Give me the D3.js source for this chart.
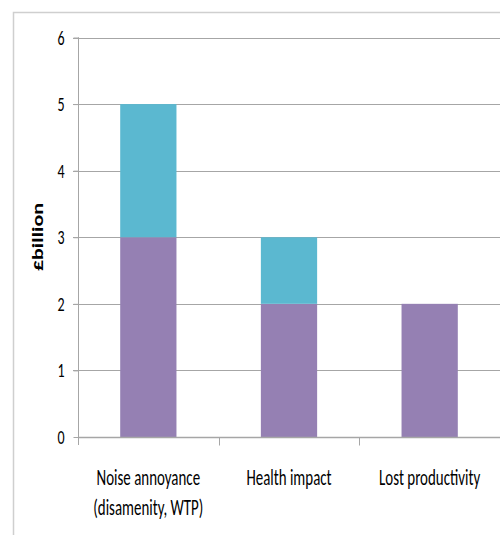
<!DOCTYPE html>
<html>
<head>
<meta charset="utf-8">
<script src="https://cdn.jsdelivr.net/npm/d3@7"></script>
<style>
  html, body { margin: 0; padding: 0; background: #fff; }
  svg { display: block; }
  .lbl { font-family: "Carlito", "Lato", "Liberation Sans", sans-serif; fill: #000; }
</style>
</head>
<body>
<svg id="chart" width="500" height="535"></svg>
<script>
// Cost categories (two-line labels where needed)
const categories = ["Noise annoyance|(disamenity, WTP)", "Health impact", "Lost productivity"];
// Stacked series, £ billion
const baseValues = [3, 2, 2];   // purple segment
const upperValues = [2, 1, 0];  // teal segment
const yTicks = [0, 1, 2, 3, 4, 5, 6];
const yTitle = "£billion";

const colors = { base: "#9580b3", upper: "#5bb8d0", grid: "#a6a6a6", border: "#cfcfcf" };
const squeeze = 0.7; // narrow, tall lettering

const svg = d3.select("#chart");
const plot = { left: 78, right: 500, top: 37.5, bottom: 437 };

// Chart area border (partly beyond the frame)
svg.append("path")
  .attr("d", "M13.5,535 V12.5 H500")
  .attr("fill", "none").attr("stroke", colors.border).attr("stroke-width", 1.5);

const x = d3.scaleBand().domain(categories).range([plot.left, plot.right]).paddingInner(0.6).paddingOuter(0.3);
const xCat = d3.scaleBand().domain(categories).range([plot.left, plot.right]);
const y = d3.scaleLinear().domain([0, 6]).range([plot.bottom, plot.top]);

// Horizontal gridlines with left ticks
svg.append("g").selectAll("line").data(yTicks.filter(d => d > 0)).join("line")
  .attr("x1", plot.left - 5).attr("x2", plot.right)
  .attr("y1", d => Math.round(y(d)) + 0.5).attr("y2", d => Math.round(y(d)) + 0.5)
  .attr("stroke", colors.grid).attr("stroke-width", 1);

// Stacked bars
const stackData = categories.map((c, i) => ({ cat: c, base: baseValues[i], upper: upperValues[i] }));
const stack = d3.stack().keys(["base", "upper"])(stackData);
svg.append("g").selectAll("g").data(stack).join("g")
  .attr("fill", d => d.key === "base" ? colors.base : colors.upper)
  .selectAll("rect").data(d => d.filter(s => s[1] > s[0])).join("rect")
  .attr("x", d => x(d.data.cat))
  .attr("width", x.bandwidth())
  .attr("y", d => y(d[1]))
  .attr("height", d => y(d[0]) - y(d[1]));

// Y axis
const yAxis = svg.append("g").attr("transform", `translate(${plot.left + 0.5},0)`)
  .call(d3.axisLeft(y).tickValues(yTicks).tickSize(5).tickPadding(0).tickFormat(d3.format("d")));
yAxis.select(".domain").attr("stroke", colors.grid).attr("d", `M-0.5,${plot.top}H0V${plot.bottom + 8}`);
yAxis.selectAll(".tick line").attr("stroke", colors.grid);
yAxis.selectAll(".tick text")
  .attr("class", "lbl").attr("font-size", 20).attr("fill", "#000")
  .attr("x", null).attr("dy", null).attr("y", 6.5)
  .attr("transform", `translate(-14,0) scale(${squeeze},1)`);

// X axis baseline and category separators
const xAxis = svg.append("g").attr("transform", `translate(0,${Math.round(plot.bottom) + 0.5})`);
xAxis.append("line").attr("x1", plot.left).attr("x2", plot.right)
  .attr("stroke", colors.grid).attr("stroke-width", 1.5);
xAxis.selectAll("line.sep").data(categories.slice(1)).join("line").attr("class", "sep")
  .attr("x1", d => Math.round(xCat(d)) + 0.5).attr("x2", d => Math.round(xCat(d)) + 0.5)
  .attr("y1", 0).attr("y2", 8).attr("stroke", colors.grid);

// Category labels
const labels = svg.append("g").selectAll("text").data(categories).join("text")
  .attr("class", "lbl").attr("font-size", 22).attr("text-anchor", "middle")
  .attr("transform", d => `translate(${xCat(d) + xCat.bandwidth() / 2},485) scale(${squeeze * 0.97},1)`);
labels.selectAll("tspan").data(d => d.split("|")).join("tspan")
  .attr("x", 0)
  .attr("dy", (d, i) => i === 0 ? 0 : 30)
  .text(d => d);

// Y axis title
svg.append("text").attr("class", "lbl")
  .attr("transform", `translate(43,237) rotate(-90) scale(1,${squeeze})`)
  .attr("text-anchor", "middle").attr("font-size", 22).attr("font-weight", "bold")
  .text(yTitle);
</script>
</body>
</html>
